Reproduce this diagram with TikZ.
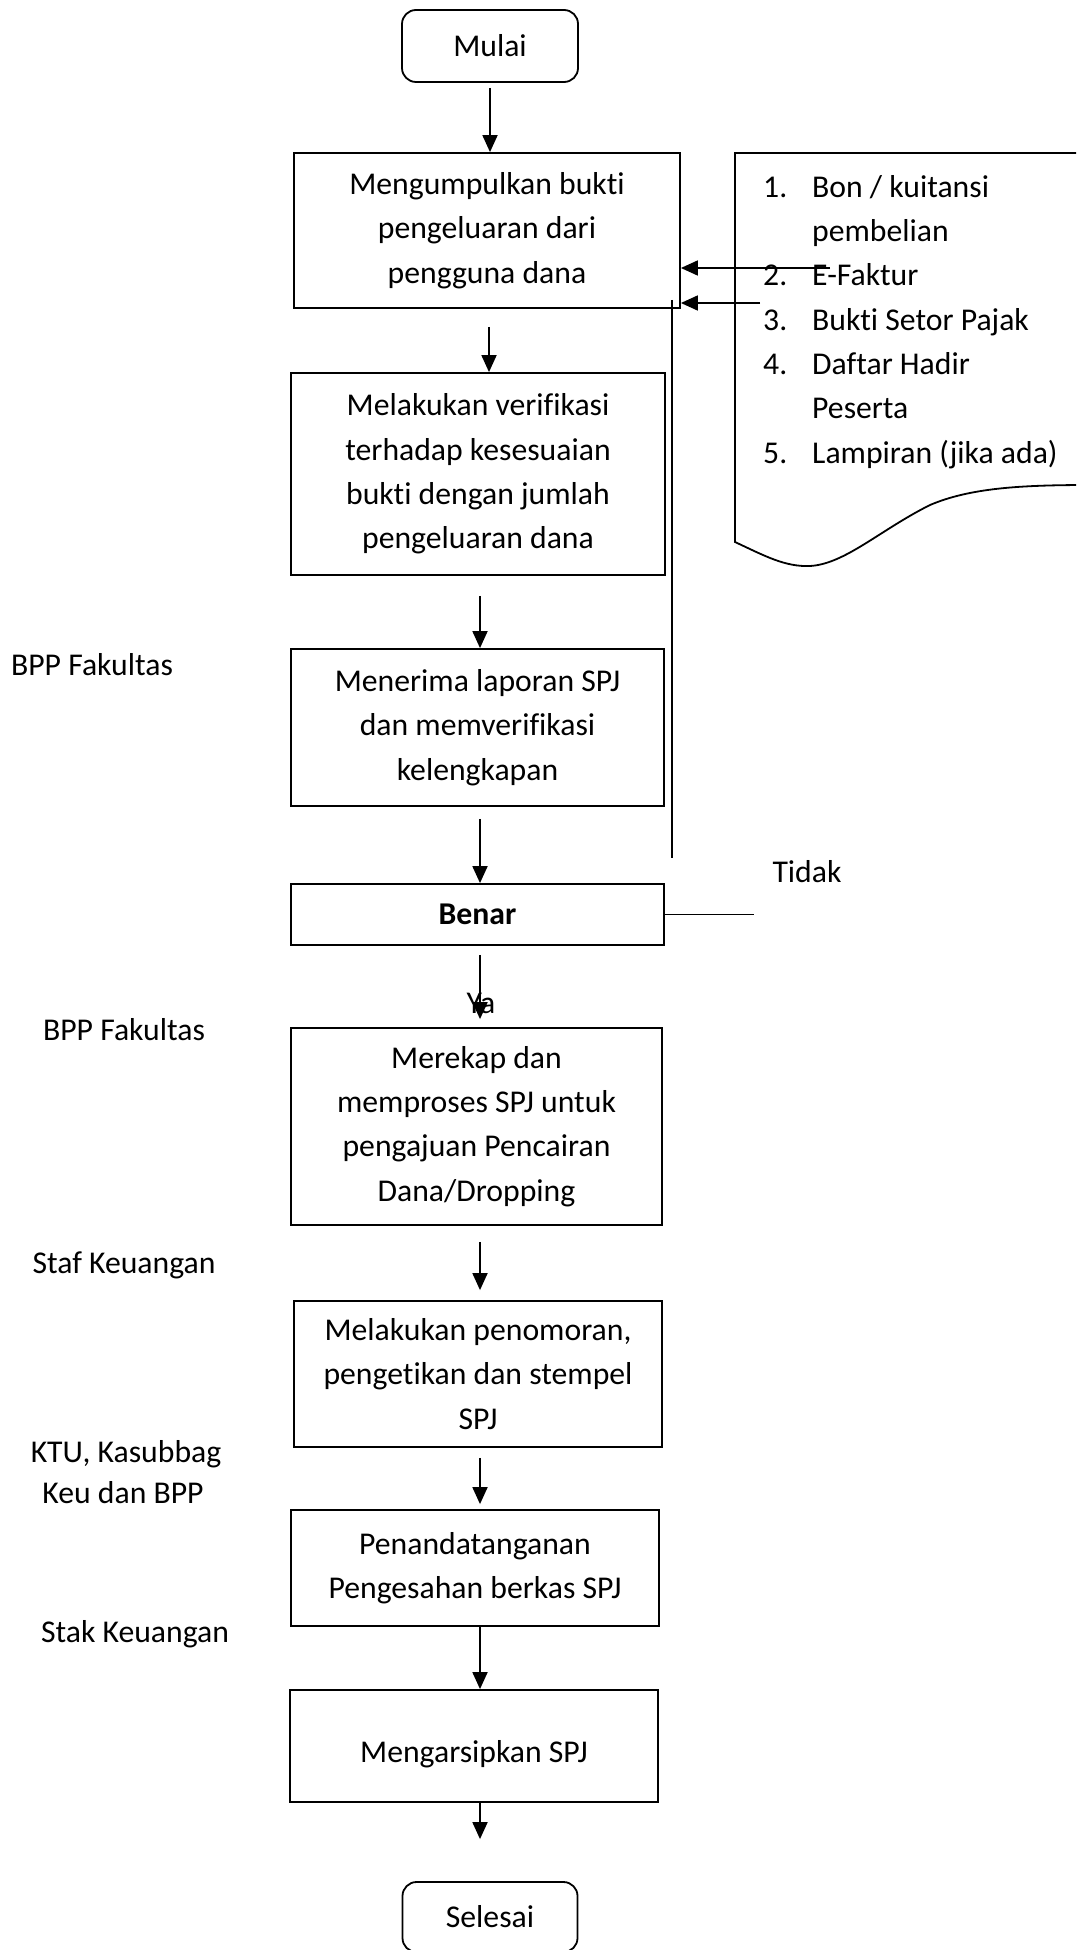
\documentclass[tikz,border=0pt]{standalone}
\usepackage{fontspec}
\setmainfont[RawFeature={-liga;-clig;-dlig;-calt;-hlig}]{Carlito}
\usetikzlibrary{arrows.meta}
\begin{document}
\begin{tikzpicture}[x=1pt,y=-1pt,
  every node/.style={font=\fontsize{31.7}{44.3}\selectfont, inner sep=0pt},
  proc/.style={draw, line width=1.8pt, align=center},
  term/.style={draw, line width=1.8pt, rounded corners=14pt},
  arr/.style={line width=1.8pt, -{Triangle[length=17pt,width=15pt]}},
  plain/.style={line width=1.8pt},
  lbl/.style={anchor=base}]
\useasboundingbox (0,0) rectangle (1076,1950);
\clip (0,0) rectangle (1076,1950);

% main flow
\node[term, minimum width=176pt, minimum height=72pt] (mulai) at (490,46) {Mulai};
\node[proc, minimum width=386pt, minimum height=155pt] (b1) at (487,230.5)
  {Mengumpulkan bukti\\pengeluaran dari\\pengguna dana};
\node[proc, minimum width=374pt, minimum height=202pt] (b2) at (478,474)
  {Melakukan verifikasi\\terhadap kesesuaian\\bukti dengan jumlah\\pengeluaran dana};
\node[proc, minimum width=373pt, minimum height=157pt] (b3) at (477.5,727.5)
  {Menerima laporan SPJ\\dan memverifikasi\\kelengkapan};
\node[proc, minimum width=373pt, minimum height=61pt] (benar) at (477.5,914.5)
  {\textbf{Benar}};
\node[proc, minimum width=371pt, minimum height=197pt] (b4) at (476.5,1126.5)
  {Merekap dan\\memproses SPJ untuk\\pengajuan Pencairan\\Dana/Dropping};
\node[proc, minimum width=368pt, minimum height=146pt] (b5) at (478,1374)
  {Melakukan penomoran,\\pengetikan dan stempel\\SPJ};
\node[proc, minimum width=368pt, minimum height=116pt] (b6) at (475,1568)
  {Penandatanganan\\Pengesahan berkas SPJ};
\node[proc, minimum width=368pt, minimum height=112pt] (b7) at (474,1746)
  {\raisebox{-8pt}[\height][\depth]{Mengarsipkan SPJ}};
\node[term, minimum width=175pt, minimum height=70pt] (selesai) at (490,1917) {Selesai};

% connectors
\draw[arr] ([yshift=-5pt]mulai.south) -- (mulai.south |- b1.north);
\draw[arr] ([xshift=2pt,yshift=-18pt]b1.south) -- ([xshift=2pt]b1.south |- b2.north);
\draw[arr] ([xshift=2pt,yshift=-20pt]b2.south) -- ([xshift=2pt]b2.south |- b3.north);
\draw[arr] ([xshift=2.5pt,yshift=-12pt]b3.south) -- ([xshift=2.5pt]b3.south |- benar.north);
\draw[arr, shorten >=8pt] ([xshift=2.5pt,yshift=-9pt]benar.south) -- ([xshift=2.5pt]benar.south |- b4.north);
\draw[arr, shorten >=10pt] ([xshift=3.5pt,yshift=-16pt]b4.south) -- ([xshift=3.5pt]b4.south |- b5.north);
\draw[arr, shorten >=5pt] ([xshift=2pt,yshift=-10pt]b5.south) -- ([xshift=2pt]b5.south |- b6.north);
\draw[arr] ([xshift=5pt]b6.south) -- ([xshift=5pt]b6.south |- b7.north);
\draw[arr, shorten >=42pt] ([xshift=6pt]b7.south) -- ([xshift=6pt]b7.south |- selesai.north);

% inputs from the document list
\coordinate (d1) at (830,268);
\coordinate (d2) at (760,303);
\draw[arr] (d1) -- (d1 -| b1.east);
\draw[arr] (d2) -- (d2 -| b1.east);

% "Tidak" branch
\coordinate (r1) at (672,300);
\coordinate (r2) at (672,858);
\draw[plain] (r1) -- (r2);
\coordinate (t1) at (754,916);
\draw[plain] (benar.east) -- (benar.east -| t1);
\node[lbl] (tidak) at (807,882) {Tidak};
\node[lbl] (ya) at (481,1013) {Ya};

% document shape
\draw[plain] (1090,153) -- (735,153) -- (735,542)
  .. controls (765,556) and (785,567) .. (810,566)
  .. controls (845,564) and (880,530) .. (930,505)
  .. controls (970,488) and (1020,485) .. (1090,485);
\node[anchor=north west] (doclist) at (763,166) {%
  \begin{tabular}{@{}p{49pt}@{}l@{}}
  1. & Bon / kuitansi\\
     & pembelian\\
  2. & E-Faktur\\
  3. & Bukti Setor Pajak\\
  4. & Daftar Hadir\\
     & Peserta\\
  5. & Lampiran (jika ada)
  \end{tabular}};

% role labels
\node[lbl] (l1) at (92,675) {BPP Fakultas};
\node[lbl] (l2) at (124,1040) {BPP Fakultas};
\node[lbl] (l3) at (124,1273) {Staf Keuangan};
\node[lbl] (l4) at (126,1462) {KTU, Kasubbag};
\node[lbl] (l5) at (123,1503) {Keu dan BPP};
\node[lbl] (l6) at (135,1642) {Stak Keuangan};
\end{tikzpicture}
\end{document}
